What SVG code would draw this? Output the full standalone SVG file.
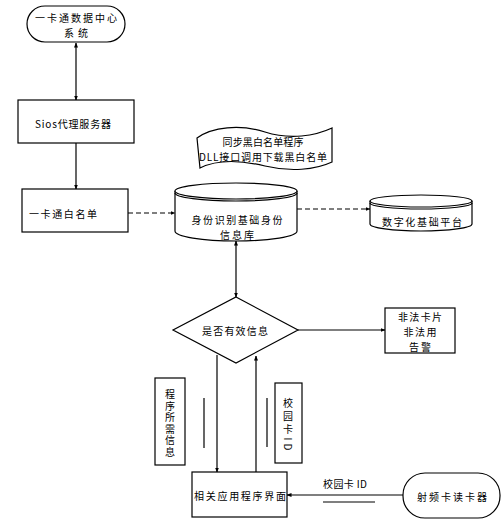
<svg xmlns="http://www.w3.org/2000/svg" width="503" height="519" viewBox="0 0 503 519">
<defs>
<marker id="ah" viewBox="0 0 10 10" refX="9" refY="5" markerWidth="5" markerHeight="5" orient="auto-start-reverse" markerUnits="userSpaceOnUse">
<path d="M0,1 L10,5 L0,9 Z" fill="#000"/>
</marker>
<style>
.s{fill:#fff;stroke:#000;stroke-width:1.2}
.l{fill:none;stroke:#000;stroke-width:1.2}
.d{fill:none;stroke:#000;stroke-width:1.2;stroke-dasharray:5,3}
.t{font-family:"Noto Sans CJK SC","Liberation Serif",serif;font-size:10px;fill:#000;text-anchor:middle;dominant-baseline:central}
.v{writing-mode:vertical-rl;letter-spacing:1.6px}
</style>
</defs>
<rect width="503" height="519" fill="#fff"/>

<g id="connectors">
<line class="l" x1="76" y1="43" x2="76" y2="100" marker-start="url(#ah)" marker-end="url(#ah)"/>
<line class="l" x1="76" y1="143" x2="76" y2="189" marker-end="url(#ah)"/>
<line class="d" x1="128" y1="213" x2="175" y2="213" marker-end="url(#ah)"/>
<line class="d" x1="297" y1="209" x2="370" y2="209" marker-end="url(#ah)"/>
<line class="l" x1="236" y1="241" x2="236" y2="297" marker-start="url(#ah)" marker-end="url(#ah)"/>
<line class="l" x1="298" y1="330" x2="385" y2="330" marker-end="url(#ah)"/>
<line class="l" x1="217" y1="355" x2="217" y2="472" marker-end="url(#ah)"/>
<line class="l" x1="256" y1="472" x2="256" y2="356" marker-end="url(#ah)"/>
<line class="l" x1="204" y1="398" x2="204" y2="448"/>
<line class="l" x1="267" y1="398" x2="267" y2="447"/>
<line class="l" x1="403" y1="495" x2="287" y2="495" marker-end="url(#ah)"/>
<line class="l" x1="323" y1="502" x2="375" y2="502"/>
<text class="t" x="345" y="483" textLength="44">校园卡 ID</text>
</g>

<g id="n-center">
<rect class="s" x="27" y="6" width="98" height="36" rx="18"/>
<text class="t" x="76" y="17" textLength="82">一卡通数据中心</text>
<text class="t" x="76" y="32" textLength="24">系统</text>
</g>

<g id="n-sios">
<rect class="s" x="18" y="100" width="116" height="43"/>
<text class="t" x="73" y="123" textLength="76">Sios代理服务器</text>
</g>

<g id="n-white">
<rect class="s" x="22" y="189" width="106" height="43"/>
<text class="t" x="63" y="213" textLength="68">一卡通白名单</text>
</g>

<g id="n-sync">
<path class="s" d="M197,138 C212,127 240,124 265,132 C290,140 315,136 332,128 L332,162 C315,170 290,172 265,166 C240,160 216,160 200,168 Z"/>
<text class="t" x="263" y="141" textLength="81">同步黑白名单程序</text>
<text class="t" x="263" y="156" textLength="128">DLL接口调用下载黑白名单</text>
</g>

<g id="n-db">
<path class="s" d="M175,191 L175,231 A61,10 0 0 0 297,231 L297,191"/>
<ellipse class="s" cx="236" cy="191" rx="61" ry="8"/>
<path class="l" d="M175,193 A61,8 0 0 0 297,193"/>
<text class="t" x="237" y="219" textLength="91">身份识别基础身份</text>
<text class="t" x="237" y="234" textLength="34">信息库</text>
</g>

<g id="n-platform">
<path class="s" d="M370,201 L370,224 A51,7 0 0 0 472,224 L472,201"/>
<ellipse class="s" cx="421" cy="201" rx="51" ry="6"/>
<path class="l" d="M370,203 A51,6 0 0 0 472,203"/>
<text class="t" x="422" y="221" textLength="80">数字化基础平台</text>
</g>

<g id="n-valid">
<polygon class="s" points="236,297 298,330 236,363 173,330"/>
<text class="t" x="235" y="330" textLength="66">是否有效信息</text>
</g>

<g id="n-illegal">
<rect class="s" x="385" y="308" width="70" height="45"/>
<text class="t" x="420" y="316" textLength="44">非法卡片</text>
<text class="t" x="420" y="331" textLength="33">非法用</text>
<text class="t" x="420" y="346" textLength="22">告警</text>
</g>

<g id="n-need">
<rect class="s" x="155" y="378" width="30" height="87"/>
<text class="t v" x="170" y="424">程序所需信息</text>
</g>

<g id="n-cardid">
<rect class="s" x="275" y="383" width="27" height="80"/>
<text class="t v" x="288" y="426" style="letter-spacing:3px">校园卡ID</text>
</g>

<g id="n-app">
<rect class="s" x="192" y="472" width="95" height="45"/>
<text class="t" x="240" y="495" textLength="92">相关应用程序界面</text>
</g>

<g id="n-reader">
<rect class="s" x="403" y="473" width="97" height="45" rx="22"/>
<text class="t" x="452" y="496" textLength="70">射频卡读卡器</text>
</g>
</svg>
